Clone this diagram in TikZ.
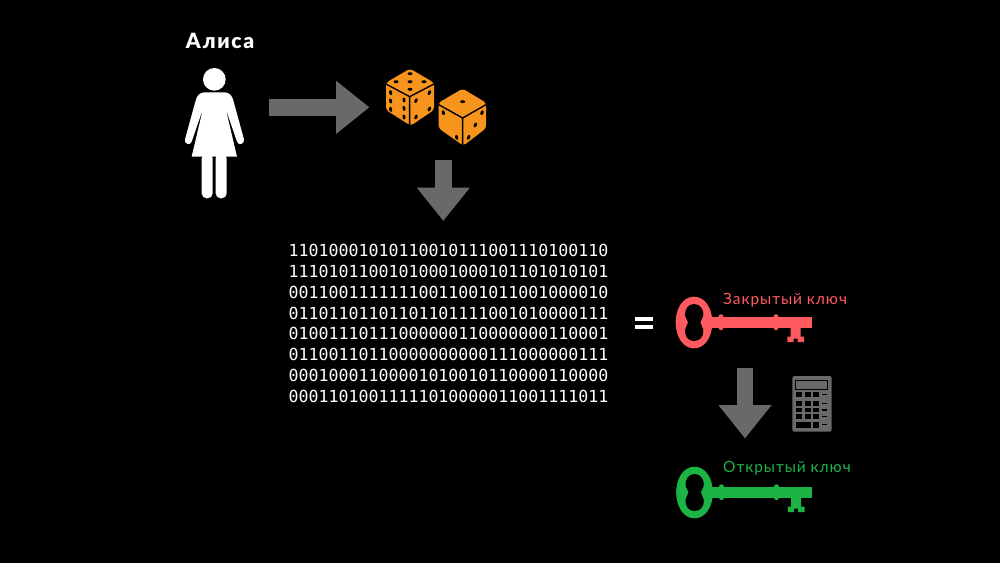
\documentclass[tikz,border=0pt]{standalone}
\usepackage{fontspec}
\setmainfont{Lato}
\setmonofont{DejaVu Sans Mono}
\newfontfamily\labelfont[LetterSpace=6]{Lato}
\newfontfamily\namefont[LetterSpace=8]{Lato Black}
\usetikzlibrary{arrows.meta}
\definecolor{arrowgray}{HTML}{696969}
\definecolor{diceorange}{HTML}{F7941D}
\definecolor{keyred}{HTML}{FF5A5F}
\definecolor{keygreen}{HTML}{1DB446}
\tikzset{
  blockarrow/.style={arrowgray,line width=16.5pt,-{Triangle[length=33.5pt,width=51pt]}},
  binaryline/.style={text=white,font=\ttfamily\fontsize{16.6}{16.6}\selectfont,inner sep=0pt,anchor=center},
  keylabel/.style={font=\labelfont\fontsize{15.5}{15.5}\selectfont,inner sep=0pt,anchor=west}
}
\newcommand{\sidepip}[3]{\fill[black,shift={(#1,#2)},rotate=#3] (0,0) ellipse [x radius=4.6,y radius=7.6];}
\newcommand{\facepip}[2]{\fill[black] (#1,#2) ellipse [x radius=7.5,y radius=4.4];}
\newcommand{\drawkey}[3]{%
  \begin{scope}[shift={(#1,#2)},scale=1/3]
    \fill[#3] (207,35) .. controls (240,35) and (262,70) .. (262,112)
      .. controls (262,155) and (240,190) .. (207,190)
      .. controls (174,190) and (152,155) .. (152,112)
      .. controls (152,70) and (174,35) .. (207,35) -- cycle;
    \fill[black] (207,57) .. controls (225,57) and (235,72) .. (235,88)
      .. controls (235,100) and (226,104) .. (226,112)
      .. controls (226,120) and (235,126) .. (235,138)
      .. controls (235,155) and (225,168) .. (207,168)
      .. controls (190,168) and (180,155) .. (180,138)
      .. controls (180,126) and (189,120) .. (189,112)
      .. controls (189,104) and (180,100) .. (180,88)
      .. controls (180,72) and (190,57) .. (207,57) -- cycle;
    \fill[#3] (255,97) -- (560,97) -- (560,128) -- (255,128) -- cycle;
    \fill[#3,rounded corners=2pt] (281,88) rectangle (295,135);
    \fill[#3,rounded corners=2pt] (446,88) rectangle (460,135);
    \fill[#3] (497,128) -- (527,128) -- (527,155) -- (537,155) -- (537,171) -- (518,171)
      -- (518,161) -- (506,161) -- (506,171) -- (487,171) -- (487,155) -- (497,155) -- cycle;
  \end{scope}}
\begin{document}
\begin{tikzpicture}[x=1pt,y=-1pt]
\useasboundingbox (0,0) rectangle (1000,563);
\fill[black] (0,0) rectangle (1000,563);
% person
\begin{scope}[shift={(175,60)},scale=1/3]
  \fill[white] (118,58) circle [radius=34];
  \fill[white] (90,97) -- (148,97) .. controls (162,97) and (170,106) .. (174,118)
    -- (207,238) .. controls (210,252) and (190,258) .. (186,245)
    -- (150,140) -- (152,146) -- (186,290) -- (50,290) -- (84,146) -- (86,140)
    -- (50,245) .. controls (46,258) and (26,252) .. (30,238)
    -- (63,118) .. controls (67,106) and (75,97) .. (90,97) -- cycle;
  \fill[white,rounded corners=5pt] (80,280) rectangle (113,415);
  \fill[white,rounded corners=5pt] (122,280) rectangle (155,415);
\end{scope}
% dice
\begin{scope}[shift={(380,60)},scale=1/3]
  \fill[diceorange,rounded corners=3pt] (90,26) -- (162,68) -- (162,150) -- (92,197) -- (18,150) -- (18,68) -- cycle;
  \draw[black,line width=1.4pt] (18,72) -- (89,110) -- (162,72) (89,110) -- (89,197);
  \facepip{90}{41}\facepip{48}{65}\facepip{90}{65}\facepip{132}{65}\facepip{90}{88}
  \sidepip{32}{98}{12}\sidepip{72}{120}{12}\sidepip{32}{123}{12}\sidepip{72}{145}{12}\sidepip{32}{148}{12}\sidepip{72}{171}{12}
  \sidepip{108}{122}{-25}\sidepip{148}{98}{-25}\sidepip{148}{147}{-25}\sidepip{108}{171}{-25}
  \fill[diceorange,rounded corners=3pt] (248,86) -- (318,128) -- (318,205) -- (250,257) -- (176,205) -- (176,128) -- cycle;
  \draw[black,line width=1.4pt] (176,134) -- (248,174) -- (318,134) (248,174) -- (248,257);
  \facepip{248}{125}
  \sidepip{190}{158}{12}\sidepip{230}{232}{12}
  \sidepip{306}{158}{-25}\sidepip{286}{195}{-25}\sidepip{266}{232}{-25}
\end{scope}
% keys
\drawkey{625}{285}{keyred}
\drawkey{625.5}{455}{keygreen}
% calculator
\begin{scope}[shift={(625,285)},scale=1/3]
  \fill[arrowgray,rounded corners=2pt] (502,273) rectangle (620,440);
  \draw[black,line width=.8pt] (512,286) rectangle (608,313);
  \foreach \yy in {322,348,368,388} {
    \foreach \xx in {512,540,563} {\fill[black] (\xx,\yy) rectangle +(18,14);}
  }
  \fill[black] (512,412) rectangle +(46,16);
  \fill[black] (563,412) rectangle +(18,16);
  \foreach \yy in {327,353,373,393,417} {\fill[black] (591,\yy) rectangle +(14,4);}
\end{scope}
% equals
\fill[white] (635,316.7) rectangle (652.7,321);
\fill[white] (635,325) rectangle (652.7,329.3);
% anchors for connectors
\coordinate (aliceout) at (269,107.3);
\coordinate (dicein) at (369.5,107.3);
\coordinate (diceout) at (443.3,160);
\coordinate (binaryin) at (443.3,221);
\coordinate (privout) at (745,368.3);
\coordinate (pubin) at (745,438.5);
\draw[blockarrow] (aliceout) -- (dicein);
\draw[blockarrow] (diceout) -- (binaryin);
\draw[blockarrow] (privout) -- (pubin);
% texts
\node[text=white,font=\namefont\fontsize{21}{21}\selectfont,inner sep=0pt] (alice) at (220,41) {Алиса};
\node[binaryline] (b1) at (448.5,250.5) {11010001010110010111001110100110};
\node[binaryline] (b2) at (448.5,271.3) {11101011001010001000101101010101};
\node[binaryline] (b3) at (448.5,292.2) {00110011111110011001011001000010};
\node[binaryline] (b4) at (448.5,313) {01101101101101101111001010000111};
\node[binaryline] (b5) at (448.5,333.8) {01001110111000000110000000110001};
\node[binaryline] (b6) at (448.5,354.7) {01100110110000000000111000000111};
\node[binaryline] (b7) at (448.5,375.5) {00010001100001010010110000110000};
\node[binaryline] (b8) at (448.5,396.3) {00011010011111010000011001111011};
\node[keylabel,text=keyred] (priv) at (723,300) {Закрытый ключ};
\node[keylabel,text=keygreen] (pub) at (723,468) {Открытый ключ};
\end{tikzpicture}
\end{document}
